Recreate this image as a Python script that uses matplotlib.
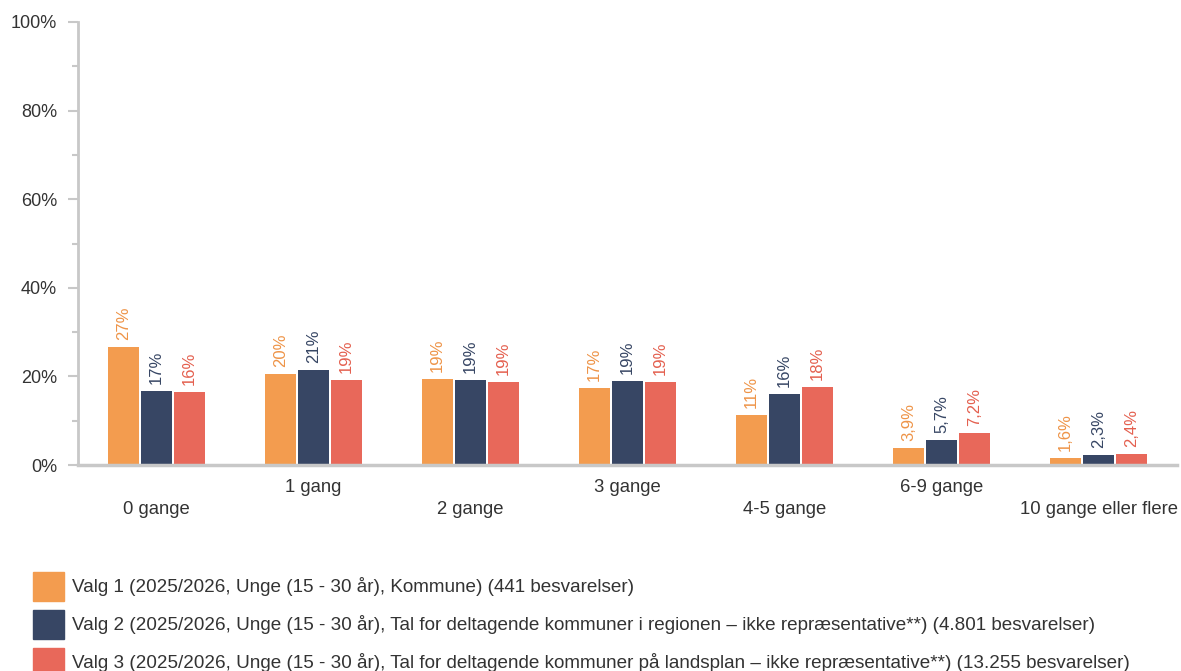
import numpy as np
import matplotlib.pyplot as plt
from matplotlib.patches import Rectangle

plt.rcParams['font.family'] = ['Liberation Sans', 'DejaVu Sans']

# data
categories = ['0 gange', '1 gang', '2 gange', '3 gange', '4-5 gange',
              '6-9 gange', '10 gange eller flere']
valg1 = [26.6, 20.5, 19.4, 17.4, 11.3, 3.9, 1.6]
valg2 = [16.7, 21.4, 19.2, 19.0, 16.0, 5.7, 2.3]
valg3 = [16.5, 19.2, 18.8, 18.8, 17.6, 7.2, 2.4]
labels1 = ['27%', '20%', '19%', '17%', '11%', '3,9%', '1,6%']
labels2 = ['17%', '21%', '19%', '19%', '16%', '5,7%', '2,3%']
labels3 = ['16%', '19%', '19%', '19%', '18%', '7,2%', '2,4%']
series_names = [
    'Valg 1 (2025/2026, Unge (15 - 30 år), Kommune) (441 besvarelser)',
    'Valg 2 (2025/2026, Unge (15 - 30 år), Tal for deltagende kommuner i regionen – ikke repræsentative**) (4.801 besvarelser)',
    'Valg 3 (2025/2026, Unge (15 - 30 år), Tal for deltagende kommuner på landsplan – ikke repræsentative**) (13.255 besvarelser)',
]

bar_colors = ['#F39C4F', '#374664', '#E8685A']
text_colors = ['#EE9448', '#374664', '#E4604F']
gray = '#C8C8C8'
txt = '#333333'

fig = plt.figure(figsize=(11.81, 6.71), dpi=100)
ax = fig.add_axes([78/1181, 1-465/671, (1177-78)/1181, (465-22)/671])

x = np.arange(len(categories))
w = 0.21
series = [valg1, valg2, valg3]
labs = [labels1, labels2, labels3]
for k in range(3):
    xs = x + (k-1)*w
    ax.bar(xs, series[k], width=w-0.008, color=bar_colors[k], zorder=2)
    for xi, v, lb in zip(xs, series[k], labs[k]):
        ax.annotate(lb, xy=(xi, v), xytext=(0, 5), textcoords='offset points',
                    rotation=90, ha='center', va='bottom', fontsize=12,
                    color=text_colors[k])

ax.set_xlim(-0.5, len(categories)-0.5)
ax.set_ylim(0, 100)
ax.set_yticks([0, 20, 40, 60, 80, 100])
ax.set_yticklabels(['0%', '20%', '40%', '60%', '80%', '100%'])
ax.set_yticks([10, 30, 50, 70, 90], minor=True)
ax.tick_params(axis='y', which='major', length=7, width=1.5, color=gray,
               labelsize=13, labelcolor=txt, pad=8)
ax.tick_params(axis='y', which='minor', length=4, width=1.5, color=gray)

ax.set_xticks(x)
ax.set_xticklabels([])
ax.tick_params(axis='x', length=0)
for i, c in enumerate(categories):
    yoff = -44 if i % 2 == 0 else -22
    ax.annotate(c, xy=(i, 0), xytext=(0, yoff), textcoords='offset pixels',
                ha='center', va='center', fontsize=13.3, color=txt,
                annotation_clip=False)

for s in ['top', 'right']:
    ax.spines[s].set_visible(False)
ax.spines['left'].set_color(gray)
ax.spines['left'].set_linewidth(2)
ax.spines['bottom'].set_color(gray)
ax.spines['bottom'].set_linewidth(2.5)

# legend
for k in range(3):
    yc = 1 - (586 + 38*k)/671
    fig.patches.append(Rectangle((33/1181, yc - 14.5/671), 31/1181, 29/671,
                                 transform=fig.transFigure,
                                 color=bar_colors[k]))
    fig.text(72/1181, yc, series_names[k], ha='left', va='center',
             fontsize=13.6, color=txt)

fig.savefig('out.png', dpi=100)
